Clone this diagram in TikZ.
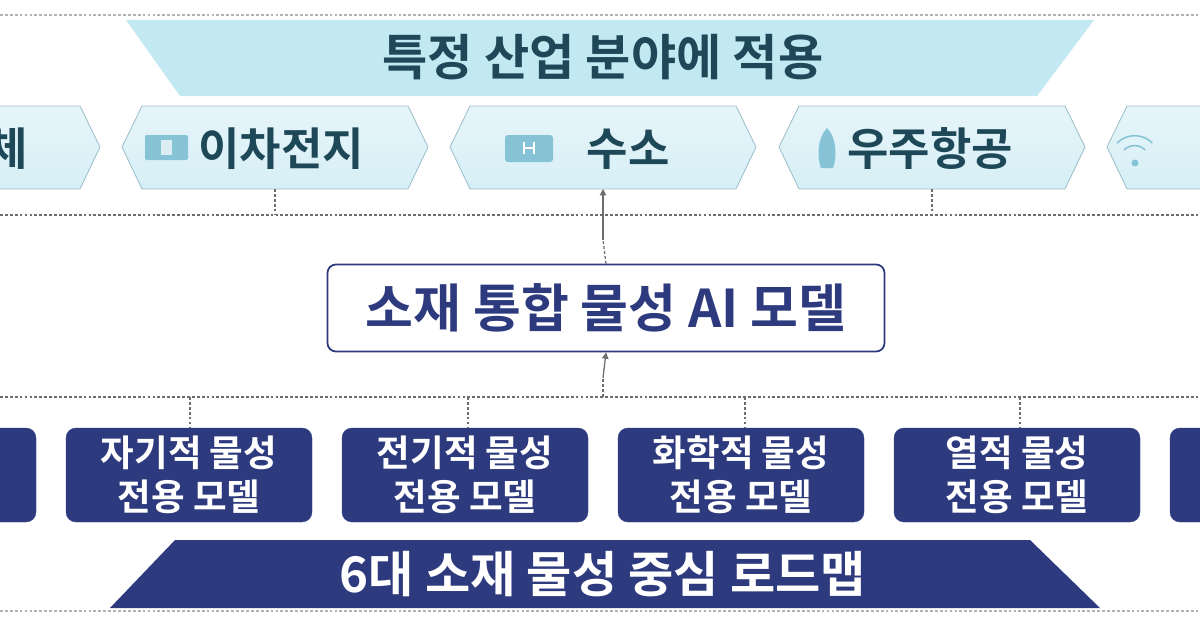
\documentclass[tikz,border=0pt]{standalone}
\usepackage{fontspec}
\setmainfont{Noto Sans CJK KR}[BoldFont={* Bold}]
\usetikzlibrary{arrows.meta}
\definecolor{navy}{HTML}{2E3A7E}
\definecolor{tealtxt}{HTML}{1E4858}
\definecolor{bann}{HTML}{C2E8F2}
\definecolor{hexf}{HTML}{D6EFF6}
\definecolor{hexd}{HTML}{9EBFCB}
\definecolor{icon}{HTML}{86C3D6}
\tikzset{
  hexbox/.style={draw=hexd, line width=1.2pt, top color=hexf!60!white, bottom color=hexf},
  navybox/.style={fill=navy, draw=navy, rounded corners=14pt},
  dline/.style={draw=gray!85!black, line width=1.8pt, dash pattern=on 4pt off 3pt},
  hexlab/.style={text=tealtxt, font=\bfseries\fontsize{64}{68}\selectfont},
  boxlab/.style={text=white, align=center, font=\bfseries\fontsize{52}{62}\selectfont},
}
\begin{document}
\begin{tikzpicture}[x=0.05cm,y=-0.05cm]
\useasboundingbox (0,0) rectangle (1200,630);
\clip (0,0) rectangle (1200,630);
\fill[white] (0,0) rectangle (1200,630);
% top dotted line
\draw[dline, draw=gray!60] (0,15) -- (1200,15);
% top banner
\fill[bann] (126,20) -- (1094,20) -- (1037,96) -- (180,96) -- cycle;
\node[text=tealtxt, font=\bfseries\fontsize{70}{74}\selectfont] (title) at (603,57) {특정 산업 분야에 적용};
% hexagons
\foreach \c/\n in {-53/h0,275/h1,603/h2,932/h3,1260/h4}{
  \draw[hexbox] (\c-153,147) -- (\c-133,106) -- (\c+133,106) -- (\c+153,147) -- (\c+133,189) -- (\c-133,189) -- cycle;
  \coordinate (\n) at (\c,189);
}
\node[hexlab, anchor=east] (t0) at (30,149) {반도체};
% icons
\fill[icon, rounded corners=2pt] (145,135) rectangle (188,160);
\fill[white!70!icon] (161,140) rectangle (172,155);
\node[hexlab, anchor=west] (t1) at (196,149) {이차전지};
\fill[icon, rounded corners=4pt] (505,135) rectangle (553,162);
\draw[white, line width=1.5pt] (524,142) -- (524,154) (534,142) -- (534,154) (524,148) -- (534,148);
\node[hexlab] (t2) at (628,149) {수소};
\fill[icon] (827,128) .. controls (817,138) and (817,158) .. (821,168) -- (833,168) .. controls (837,158) and (837,138) .. (827,128);
\node[hexlab, anchor=west] (t3) at (845,149) {우주항공};
\begin{scope}[icon, line width=2.2pt]
\draw (1117,143) arc[start angle=225, end angle=315, radius=25];
\draw (1124,150) arc[start angle=225, end angle=315, radius=15];
\fill (1135,163) circle (3.5);
\end{scope}
% upper dashed connectors
\draw[dline] (0,215) -- (1200,215);
\draw[dline] (h1) -- (275,215);
\draw[dline] (h3) -- (932,215);
% main box
\node[draw=navy, line width=2.5pt, fill=white, rounded corners=12pt, minimum width=557*0.05cm, minimum height=87*0.05cm, text=navy, font=\bfseries\fontsize{74}{78}\selectfont] (main) at (606,308) {소재 통합 물성 AI 모델};
\draw[dline] (main.north) -- (603,240);
\draw[draw=gray!85!black, line width=1.8pt, -{Triangle[length=9pt,width=9pt]}] (603,240) -- (h2);
\draw[dline] (603,397) -- (603,378);
\draw[draw=gray!85!black, line width=1.8pt, -{Triangle[length=9pt,width=9pt]}] (603,378) -- (main.south);
\draw[dline] (0,397) -- (1200,397);
% navy boxes
\foreach \c/\n/\t in {-87/b0/{},189/b1/{자기적 물성\\전용 모델},465/b2/{전기적 물성\\전용 모델},741/b3/{화학적 물성\\전용 모델},1017/b4/{열적 물성\\전용 모델},1293/b5/{}}{
  \node[navybox, minimum width=246*0.05cm, minimum height=94*0.05cm, boxlab] (\n) at (\c,475) {\t};
}
\foreach \x/\n in {190/b1,468/b2,745/b3,1020/b4}{
  \draw[dline] (\x,397) -- (\x,428);
}
% bottom banner
\fill[navy] (175,540) -- (1030,540) -- (1100,608) -- (110,608) -- cycle;
\node[text=white, font=\bfseries\fontsize{70}{74}\selectfont] (road) at (603,574) {6대 소재 물성 중심 로드맵};
\draw[dline, draw=gray!60] (0,611) -- (1200,611);
\end{tikzpicture}
\end{document}
